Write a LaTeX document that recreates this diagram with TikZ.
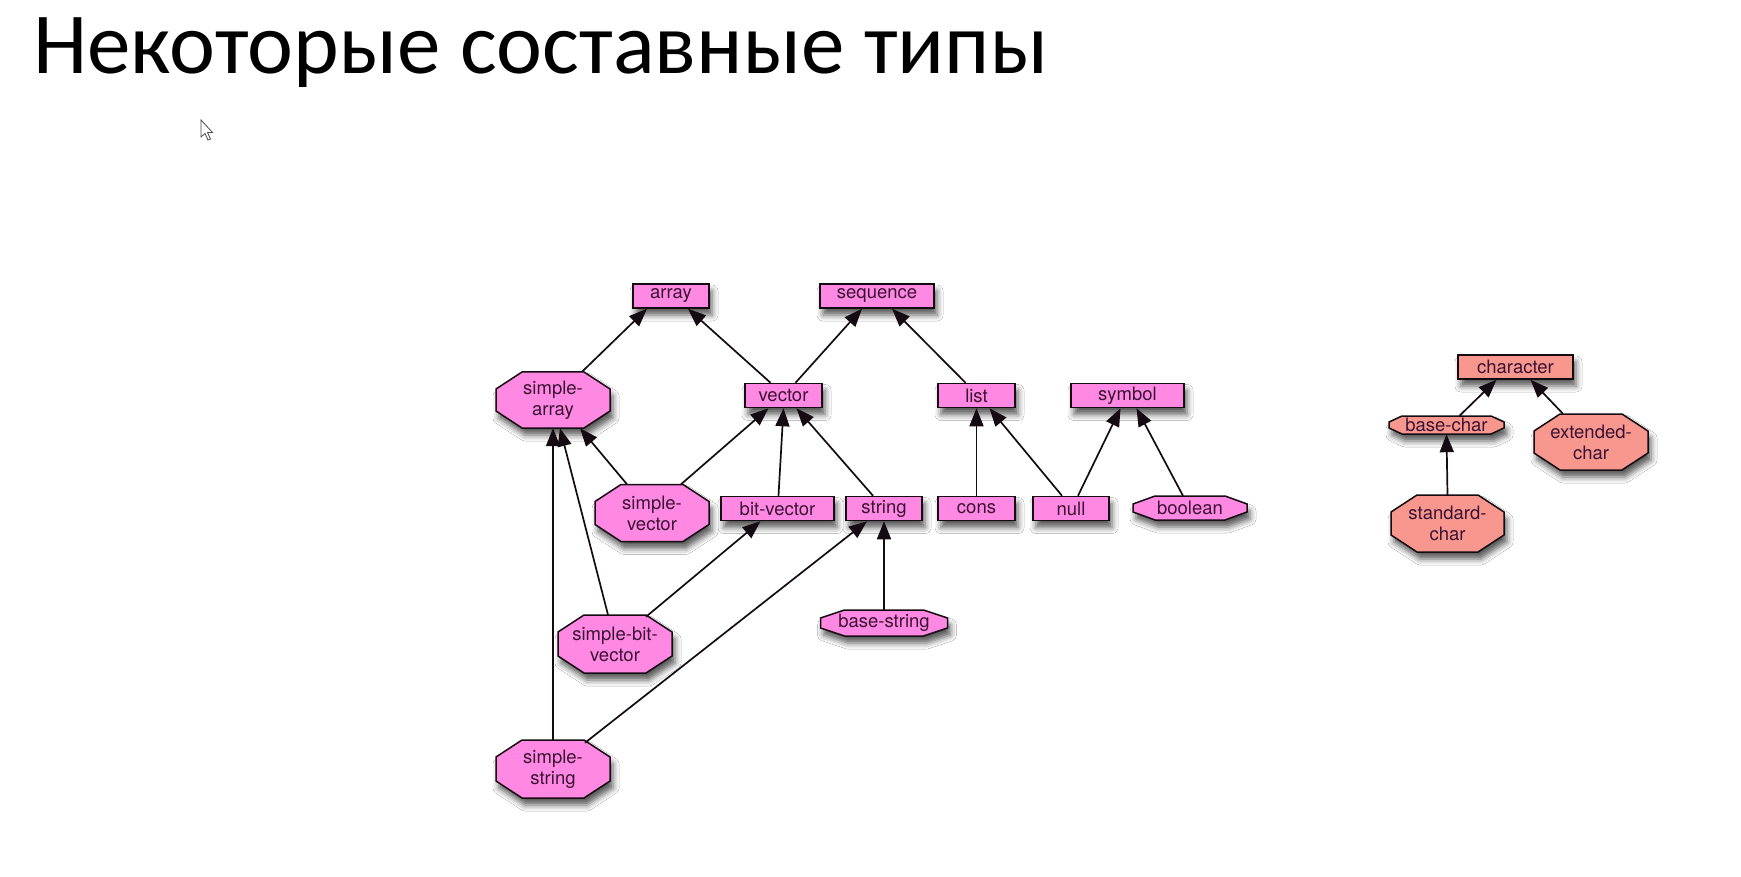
\documentclass[tikz,border=0pt]{standalone}
\usepackage{fontspec}
\newfontfamily\titlefont{Carlito}
\newfontfamily\heros{TeX Gyre Heros}
\usetikzlibrary{calc,arrows.meta,shadows.blur}
\definecolor{pinkfill}{HTML}{FF89E2}
\definecolor{salmonfill}{HTML}{F8978D}
\definecolor{edgecol}{HTML}{140C12}
\definecolor{txtcol}{HTML}{3A1235}
\tikzset{
  myshadow/.style={blur shadow={shadow xshift=3pt,shadow yshift=-7pt,shadow blur radius=6pt,shadow opacity=65}},
  shapefill/.style={fill=#1,draw=edgecol,line width=1.5pt,myshadow},
  lbl/.style={inner sep=0pt,align=center,text=txtcol,font=\heros\fontsize{18.5}{21}\selectfont},
  tbox/.style={rectangle,shapefill=#1,lbl,minimum height=24pt},
  conn/.style={draw=edgecol,line width=1.7pt,-{Triangle[length=18pt,width=14pt]}}
}
\newcommand{\octo}[9]{%
  \pgfmathsetmacro\hw{#4/2}\pgfmathsetmacro\hh{#5/2}%
  \pgfmathsetmacro\ax{\hw-#6}\pgfmathsetmacro\by{\hh-#7}%
  \path[shapefill=#9,shift={(#2,#3)}] (-\ax,-\hh) -- (\ax,-\hh) -- (\hw,-\by) -- (\hw,\by) -- (\ax,\hh) -- (-\ax,\hh) -- (-\hw,\by) -- (-\hw,-\by) -- cycle;
  \node[lbl,minimum width=#4pt,minimum height=#5pt] (#1) at (#2,#3) {#8};}
\begin{document}
\begin{tikzpicture}[x=1pt,y=-1pt]
\useasboundingbox[fill=white] (0,0) rectangle (1741,877);
% title
\node[anchor=base west,inner sep=0pt,font=\titlefont\fontsize{87}{90}\selectfont] (title) at (33,74) {Некоторые составные типы};
% mouse cursor
\draw[line width=0.8pt,draw=black!70,fill=white] (201,120) -- (201,137) -- (205,133.5) -- (208,140) -- (210.5,139) -- (207.5,132.5) -- (212.5,132.5) -- cycle;
% rectangle nodes
\node[tbox=pinkfill,minimum width=76pt] (array) at (671,296) {array};
\node[tbox=pinkfill,minimum width=114pt] (sequence) at (877,296) {sequence};
\node[tbox=pinkfill,minimum width=77pt] (vector) at (783.5,395.5) {vector};
\node[tbox=pinkfill,minimum width=77pt] (list) at (976.5,395.5) {list};
\node[tbox=pinkfill,minimum width=113pt] (symbol) at (1127.5,395.5) {symbol};
\node[tbox=pinkfill,minimum width=113pt] (bitvec) at (777.5,508.5) {bit-vector};
\node[tbox=pinkfill,minimum width=76pt] (string) at (884,508.5) {string};
\node[tbox=pinkfill,minimum width=77pt] (cons) at (976.5,508.5) {cons};
\node[tbox=pinkfill,minimum width=76pt] (null) at (1071,508.5) {null};
\node[tbox=salmonfill,minimum width=115pt] (character) at (1515.5,367) {character};
% octagon nodes
\octo{sarr}{553}{400}{114}{56}{26}{17}{simple-\\array}{pinkfill}
\octo{svec}{652}{513}{114}{57}{26}{17}{simple-\\vector}{pinkfill}
\octo{sbv}{615}{644}{114}{58}{26}{17}{simple-bit-\\vector}{pinkfill}
\octo{sstr}{553}{769}{114}{58}{26}{17}{simple-\\string}{pinkfill}
\octo{boolean}{1190}{508}{114}{24}{22}{8}{boolean}{pinkfill}
\octo{basestring}{884}{623}{127}{26}{24}{8}{base-string}{pinkfill}
\octo{extchar}{1591}{442}{114}{56}{26}{17}{extended-\\char}{salmonfill}
\octo{stdchar}{1447.5}{523.5}{113}{57}{26}{17}{standard-\\char}{salmonfill}
\octo{basechar}{1446.5}{425}{115}{18}{13}{6}{base-char}{salmonfill}
% connectors
\draw[conn] ($(sarr.north)+(29,0)$) -- ($(array.south)+(-24,0)$);
\draw[conn] ($(vector.north)+(-13,0)$) -- ($(array.south)+(17,0)$);
\draw[conn] ($(vector.north)+(12,0)$) -- ($(sequence.south)+(-15,0)$);
\draw[conn] ($(list.north)+(-11,0)$) -- ($(sequence.south)+(15,0)$);
\draw[conn] ($(svec.north)+(29,0)$) -- ($(vector.south)+(-15,0)$);
\draw[conn] ($(bitvec.north)+(1,0)$) -- (vector.south);
\draw[conn] ($(string.north)+(-11,0)$) -- ($(vector.south)+(13,0)$);
\draw[conn] ($(svec.north)+(-25,0)$) -- ($(sarr.south)+(27,0)$);
\draw[conn] ($(sbv.north)+(-7,0)$) -- ($(sarr.south)+(7,0)$);
\draw[conn] (sstr.north) -- (sarr.south);
\draw[conn] ($(sbv.north)+(31,2)$) -- ($(bitvec.south)+(-17,0)$);
\draw[conn] ($(sstr.north)+(32,3)$) -- ($(string.south)+(-17,0)$);
\draw[conn] (basestring.north) -- (string.south);
\draw[conn] (cons.north) -- (list.south);
\draw[conn] ($(null.north)+(-9,0)$) -- ($(list.south)+(13,0)$);
\draw[conn] ($(null.north)+(7,0)$) -- ($(symbol.south)+(-7,0)$);
\draw[conn] ($(boolean.north)+(-7,0)$) -- ($(symbol.south)+(9,0)$);
\draw[conn] ($(basechar.north)+(13,0)$) -- ($(character.south)+(-19,0)$);
\draw[conn] ($(extchar.north)+(-28,0)$) -- ($(character.south)+(15,0)$);
\draw[conn] (stdchar.north) -- (basechar.south);
\end{tikzpicture}
\end{document}
